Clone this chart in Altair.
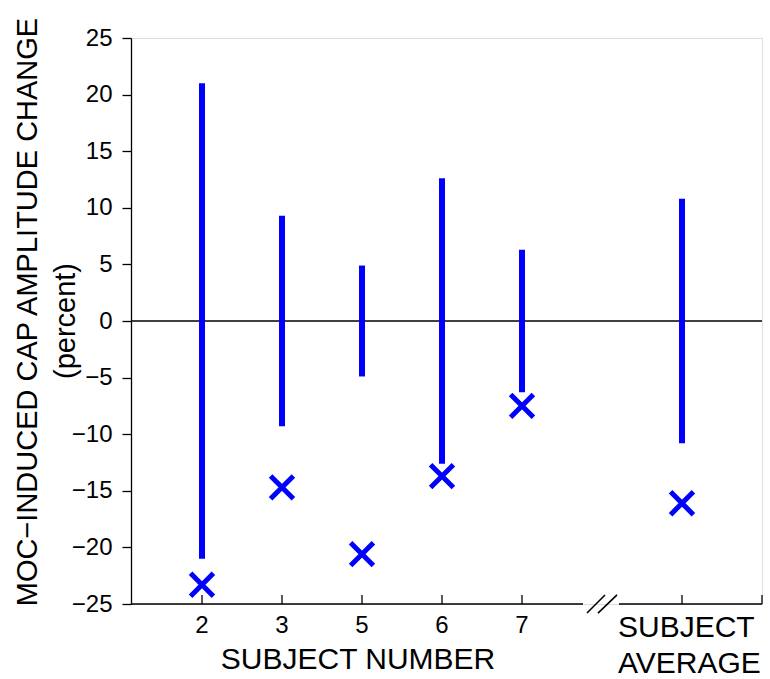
import altair as alt
import pandas as pd

FONT = "Liberation Sans"
BLUE = "#0000ff"

# Data
labels = ["2", "3", "5", "6", "7", "AVG"]
positions = [1, 2, 3, 4, 5, 7]
bar_half = [21.0, 9.3, 4.9, 12.6, 6.3, 10.8]
x_values = [-23.3, -14.7, -20.6, -13.7, -7.5, -16.1]

tick_labels = ["2", "3", "5", "6", "7"]
tick_pos = [1, 2, 3, 4, 5]

XMIN, XMAX = 0.1125, 8.0
YMIN, YMAX = -25, 25

df = pd.DataFrame({
    "pos": positions,
    "lo": [-h for h in bar_half],
    "hi": bar_half,
    "xv": x_values,
})

xs = alt.Scale(domain=[XMIN, XMAX], nice=False, zero=False)
ys = alt.Scale(domain=[YMIN, YMAX], nice=False, zero=False)

base_x = alt.X("pos:Q", scale=xs, axis=None)

bars = alt.Chart(df).mark_rule(color=BLUE, strokeWidth=6).encode(
    x=base_x,
    y=alt.Y("lo:Q", scale=ys, axis=alt.Axis(
        values=list(range(-25, 30, 5)), title=None, grid=False,
        domainColor="black", tickColor="black", tickSize=9, domainWidth=1.3,
        tickWidth=1.3,
        labelFont=FONT, labelFontSize=24, labelColor="black", labelPadding=10)),
    y2="hi:Q",
)

marks = alt.Chart(df).mark_point(
    shape="M-1,-1L1,1M-1,1L1,-1", size=520, strokeWidth=5,
    color=BLUE, filled=False, opacity=1
).encode(x=base_x, y=alt.Y("xv:Q", scale=ys))

zero = alt.Chart(pd.DataFrame({"a": [XMIN], "b": [XMAX], "y": [0]})).mark_rule(
    color="black", strokeWidth=1.4
).encode(x=alt.X("a:Q", scale=xs, axis=None), x2="b:Q", y=alt.Y("y:Q", scale=ys))

# x axis segments with break
seg = pd.DataFrame({"a": [XMIN, 6.2125], "b": [5.7625, XMAX], "y": [YMIN, YMIN]})
axis_segs = alt.Chart(seg).mark_rule(color="black", strokeWidth=1.3).encode(
    x=alt.X("a:Q", scale=xs, axis=None), x2="b:Q", y=alt.Y("y:Q", scale=ys))

ticks_df = pd.DataFrame({"p": tick_pos + [7, 8], "y0": [YMIN] * 7, "y1": [YMIN + 0.8] * 7})
ticks = alt.Chart(ticks_df).mark_rule(color="black", strokeWidth=1.3).encode(
    x=alt.X("p:Q", scale=xs, axis=None), y=alt.Y("y0:Q", scale=ys), y2="y1:Q")

brk = pd.DataFrame({"a": [5.8125, 5.95], "b": [6.0375, 6.1875],
                    "y0": [-25.8, -25.8], "y1": [-24.2, -24.2]})
breaks = alt.Chart(brk).mark_rule(color="black", strokeWidth=1.6).encode(
    x=alt.X("a:Q", scale=xs, axis=None), x2="b:Q",
    y=alt.Y("y0:Q", scale=ys), y2="y1:Q")

tl = pd.DataFrame({"p": tick_pos, "t": tick_labels})
tick_text = alt.Chart(tl).mark_text(
    font=FONT, fontSize=24, color="black", baseline="alphabetic", align="center"
).encode(x=alt.X("p:Q", scale=xs, axis=None), y=alt.value(595), text="t:N")

xtitle = alt.Chart(pd.DataFrame({"t": ["SUBJECT NUMBER"]})).mark_text(
    font=FONT, fontSize=30, color="black", baseline="alphabetic", align="center"
).encode(x=alt.value(227), y=alt.value(631), text="t:N")

avg_lab = alt.Chart(pd.DataFrame({"t": ["SUBJECT", "AVERAGE"], "yy": [599, 635]})).mark_text(
    font=FONT, fontSize=30, color="black", baseline="alphabetic", align="left"
).encode(x=alt.value(487), y=alt.Y("yy:Q", scale=None), text="t:N")

ytitle1 = alt.Chart(pd.DataFrame({"t": ["MOC\u2212INDUCED CAP AMPLITUDE CHANGE"]})).mark_text(
    font=FONT, fontSize=29, color="black", baseline="alphabetic", align="center", angle=270
).encode(x=alt.value(-94), y=alt.value(274), text="t:N")

ytitle2 = alt.Chart(pd.DataFrame({"t": ["(percent)"]})).mark_text(
    font=FONT, fontSize=29, color="black", baseline="alphabetic", align="center", angle=270
).encode(x=alt.value(-56), y=alt.value(283), text="t:N")

chart = alt.layer(
    zero, bars, marks, axis_segs, ticks, breaks, tick_text, xtitle, avg_lab, ytitle1, ytitle2
).properties(
    width=631, height=566,
    autosize=alt.AutoSizeParams(type="none"),
    padding={"left": 131, "top": 38, "right": 8, "bottom": 75},
).configure_view(stroke=None).configure(background="white")

chart.save("out.html", embed_options={"renderer": "svg", "actions": False})
